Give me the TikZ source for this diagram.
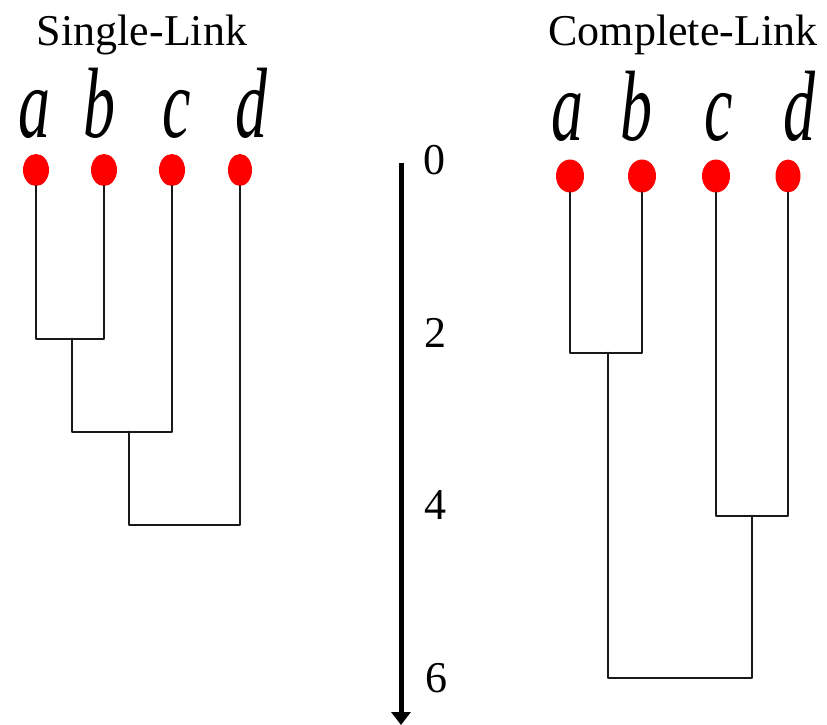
\documentclass[tikz,border=0pt]{standalone}
\usepackage{fontspec}
\setmainfont{Liberation Serif}
\usetikzlibrary{shapes.geometric,arrows.meta}
\begin{document}
\begin{tikzpicture}[x=1pt,y=-1pt,
  dot/.style={ellipse,fill=red,draw=none,minimum width=26pt,minimum height=32pt,inner sep=0pt},
  link/.style={draw=black!90,line width=2.8pt,line join=round,line cap=round},
  ttl/.style={anchor=base,inner sep=0pt,font=\fontsize{44}{48}\selectfont},
  lab/.style={anchor=base,inner sep=0pt},
  num/.style={anchor=center,inner sep=0pt,font=\fontsize{44}{48}\selectfont}]
\newcommand{\lt}[1]{\scalebox{0.64}[1]{\fontsize{100}{104}\selectfont\itshape #1}}
\useasboundingbox (0,0) rectangle (827,725);
% titles
\node[ttl] (t1) at (142,46) {Single-Link};
\node[ttl] (t2) at (683,46) {Complete-Link};
% left letters
\node[lab] (la) at (35,137) {\lt{a}};
\node[lab] (lb) at (99,137) {\lt{b}};
\node[lab] (lc) at (177,137) {\lt{c}};
\node[lab] (ld) at (251,137) {\lt{d}};
% right letters
\node[lab] (ra) at (567,140) {\lt{a}};
\node[lab] (rb) at (636,140) {\lt{b}};
\node[lab] (rc) at (719,140) {\lt{c}};
\node[lab] (rd) at (799,140) {\lt{d}};
% left dendrogram
\coordinate (m1) at (72,339);
\coordinate (m2) at (129,432);
\coordinate (m3) at (185,525);
\node[dot] (La) at (36,170) {};
\node[dot] (Lb) at (104,170) {};
\node[dot] (Lc) at (172,170) {};
\node[dot,minimum width=24pt] (Ld) at (240,170) {};
\draw[link] (La) |- (m1) -| (Lb);
\draw[link] (m1) |- (m2) -| (Lc);
\draw[link] (m2) |- (m3) -| (Ld);
% right dendrogram
\coordinate (n1) at (608,353);
\coordinate (n2) at (752,516);
\coordinate (n3) at (680,678);
\node[dot,minimum width=28pt,minimum height=33pt] (Ra) at (570,176) {};
\node[dot,minimum width=28pt,minimum height=33pt] (Rb) at (642,176) {};
\node[dot,minimum width=28pt,minimum height=33pt] (Rc) at (716,176) {};
\node[dot,minimum width=25pt,minimum height=33pt] (Rd) at (788,176) {};
\draw[link] (Ra) |- (n1) -| (Rb);
\draw[link] (Rc) |- (n2) -| (Rd);
\draw[link] (n1) |- (n3) -| (n2);
% axis
\coordinate (atop) at (401,163);
\coordinate (abot) at (401,725);
\draw[line width=5pt,-{Triangle[width=19pt,length=13pt]}] (atop) -- (abot);
\node[num] (n0) at (434,160) {0};
\node[num] (nt) at (435,333) {2};
\node[num] (nf) at (435,505) {4};
\node[num] (ns) at (436,678) {6};
\end{tikzpicture}
\end{document}
